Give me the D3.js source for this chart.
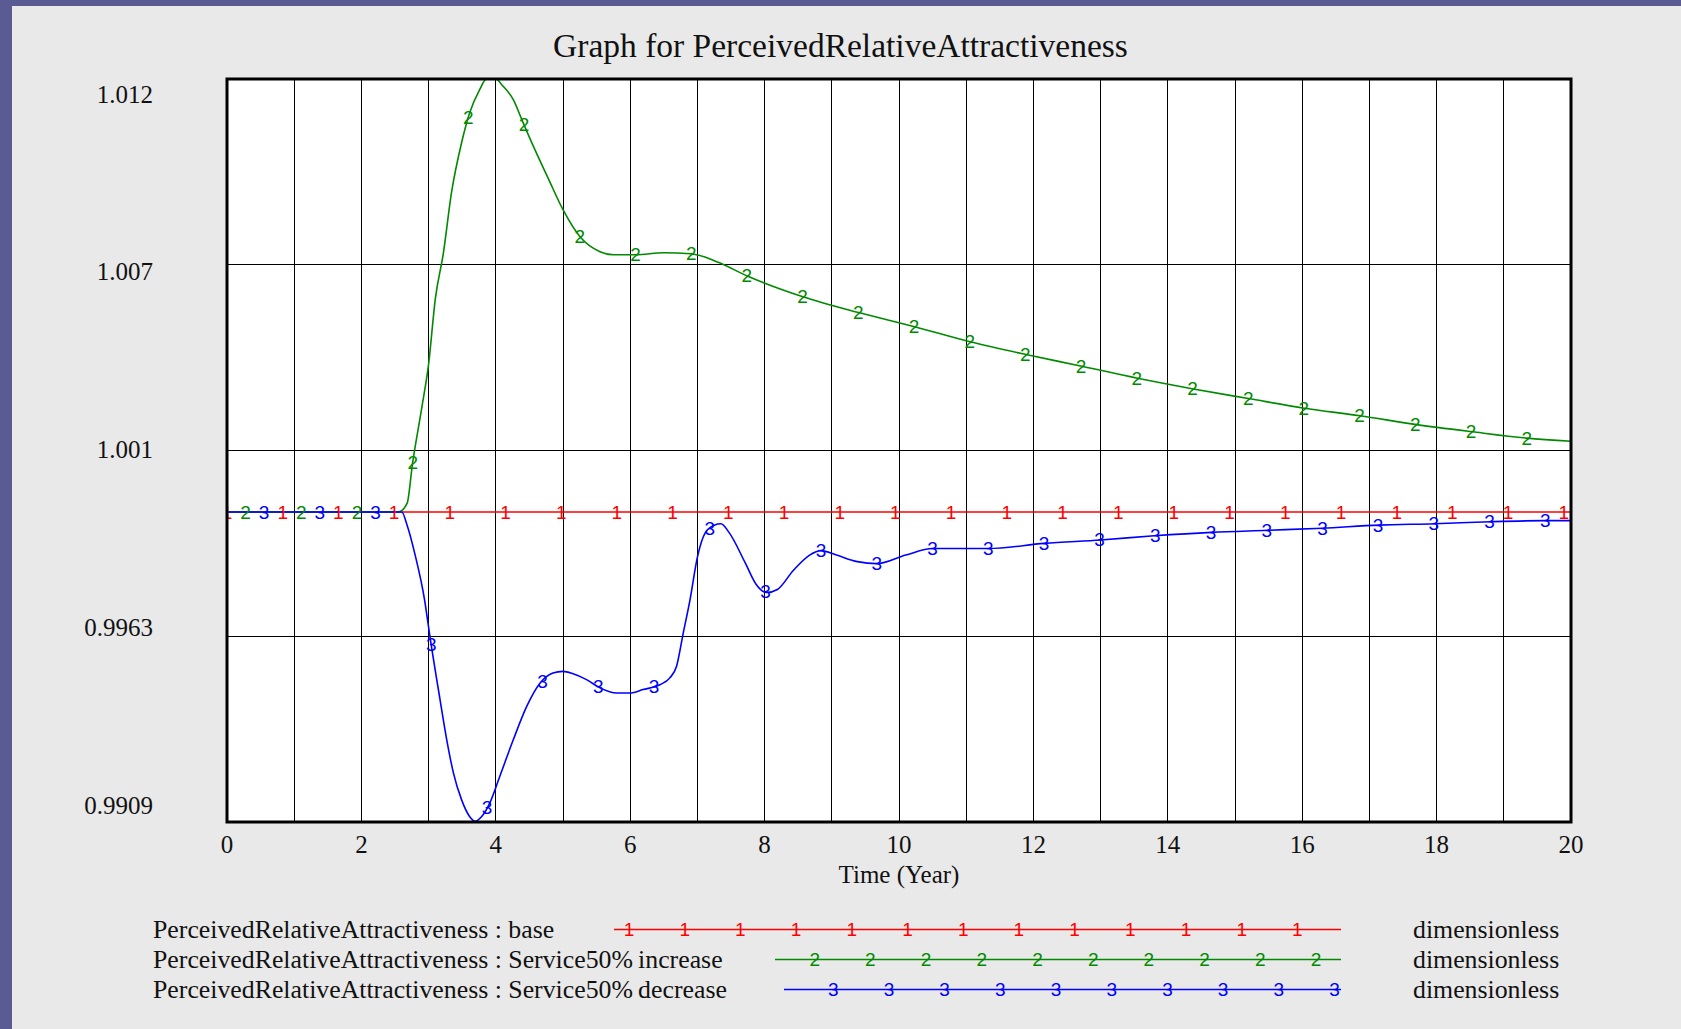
<!DOCTYPE html>
<html>
<head>
<meta charset="utf-8">
<script src="https://cdn.jsdelivr.net/npm/d3@7"></script>
<style>
  html, body { margin: 0; padding: 0; background: #e9e9e9; }
  svg { display: block; }
  text { font-family: "Liberation Serif", "Times New Roman", serif; fill: #111; }
  .mark { font-family: "Liberation Sans", Arial, sans-serif; }
</style>
</head>
<body>
<div id="container"></div>
<script>
/* CONSTANTS AND GLOBALS */
const width = 1681,
  height = 1029,
  plotLeft = 227,
  plotRight = 1571,
  plotTop = 79,
  plotBottom = 822,
  markSpacing = 55.7;

/* DATA */
const title = "Graph for PerceivedRelativeAttractiveness";
const xLabel = "Time (Year)";
const units = "dimensionless";
const xTicks = [0, 2, 4, 6, 8, 10, 12, 14, 16, 18, 20];
const yDomain = [0.99099, 1.01259];
const yTickLabels = ["1.012", "1.007", "1.001", "0.9963", "0.9909"];

const baseTime = [0, 20];
const baseValue = [1.0, 1.0];

const increaseTime = [0, 2.55, 2.68, 2.76, 2.9, 3.0, 3.1, 3.22, 3.34, 3.49, 3.61, 3.76, 3.86, 4.0, 4.1, 4.26, 4.4, 4.56, 4.78, 5.0, 5.25, 5.55, 5.75, 6.08, 6.5, 6.9, 7.1, 7.31, 7.76, 8.57, 9.4, 10.23, 11.06, 11.89, 12.72, 13.55, 14.38, 15.2, 16.03, 16.86, 17.68, 18.51, 19.34, 20];
const increaseValue = [1.0, 1.0, 1.00025, 1.0014, 1.00305, 1.0043, 1.0062, 1.00753, 1.00928, 1.01073, 1.0116, 1.01228, 1.01259, 1.01259, 1.0124, 1.01199, 1.01135, 1.01063, 1.0097, 1.00879, 1.00801, 1.00757, 1.00748, 1.00748, 1.00754, 1.00751, 1.00742, 1.00726, 1.00685, 1.00626, 1.0058, 1.00539, 1.00495, 1.00458, 1.00424, 1.00389, 1.00358, 1.0033, 1.00302, 1.0028, 1.00255, 1.00234, 1.00215, 1.00206];

const decreaseTime = [0, 2.6, 2.68, 2.8, 2.94, 3.02, 3.17, 3.27, 3.37, 3.49, 3.61, 3.69, 3.79, 3.91, 4.06, 4.26, 4.46, 4.66, 4.85, 5.0, 5.15, 5.35, 5.55, 5.8, 6.0, 6.19, 6.44, 6.59, 6.69, 6.79, 6.89, 7.0, 7.12, 7.25, 7.35, 7.47, 7.71, 7.87, 8.03, 8.19, 8.43, 8.67, 8.84, 9.07, 9.38, 9.67, 10.1, 10.5, 11.33, 12.16, 13.0, 13.8, 14.65, 15.48, 16.3, 17.14, 17.97, 18.8, 19.6, 20];
const decreaseValue = [1.0, 1.0, 0.99962, 0.99875, 0.99745, 0.99638, 0.99455, 0.99338, 0.99241, 0.99164, 0.99115, 0.99101, 0.99115, 0.99154, 0.99232, 0.99338, 0.99435, 0.99503, 0.99532, 0.99537, 0.9953, 0.99513, 0.99489, 0.99474, 0.99474, 0.99484, 0.99498, 0.99518, 0.99552, 0.99649, 0.99745, 0.99869, 0.99941, 0.99962, 0.99966, 0.99941, 0.99853, 0.99791, 0.99766, 0.99775, 0.99831, 0.99875, 0.99888, 0.99875, 0.99856, 0.9985, 0.99875, 0.99894, 0.99894, 0.99909, 0.99919, 0.99931, 0.99941, 0.99947, 0.99953, 0.99962, 0.99966, 0.99972, 0.99975, 0.99975];

const seriesNames = ["PerceivedRelativeAttractiveness : base",
  "PerceivedRelativeAttractiveness : Service50%\u2009increase",
  "PerceivedRelativeAttractiveness : Service50%\u2009decrease"];
const seriesColors = ["#ff0000", "#008a00", "#0000ff"];
const legendLineStart = [614, 775, 784];

const series = [
  { id: "1", time: baseTime, value: baseValue },
  { id: "2", time: increaseTime, value: increaseValue },
  { id: "3", time: decreaseTime, value: decreaseValue }
].map((s, i) => ({
  ...s,
  name: seriesNames[i],
  color: seriesColors[i],
  points: s.time.map((t, j) => ({ t: t, v: s.value[j] }))
}));

const svg = d3.select("#container")
  .append("svg")
  .attr("width", width)
  .attr("height", height)

// background + frame
svg.append("rect").attr("width", width).attr("height", height).attr("fill", "#e9e9e9")
svg.append("rect").attr("width", 12).attr("height", height).attr("fill", "#5b5b93")
svg.append("rect").attr("width", width).attr("height", 6).attr("fill", "#5b5b93")

/* SCALES */
const xScale = d3.scaleLinear().domain([0, 20]).range([plotLeft, plotRight])
const yScale = d3.scaleLinear().domain(yDomain).range([plotBottom, plotTop])
// labels are spread inside the plot height, not exactly on the grid
const yLabelScale = d3.scaleLinear().domain([0, yTickLabels.length - 1]).range([94, 805])

svg.append("text")
  .attr("x", width / 2)
  .attr("y", 45)
  .attr("text-anchor", "middle")
  .attr("dominant-baseline", "central")
  .style("font-size", "33.5px")
  .text(title)

svg.append("rect")
  .attr("x", plotLeft).attr("y", plotTop)
  .attr("width", plotRight - plotLeft).attr("height", plotBottom - plotTop)
  .attr("fill", "white")

/* GRID */
const grid = svg.append("g").attr("shape-rendering", "crispEdges")
grid.selectAll(".vgrid")
  .data(d3.range(1, 20))
  .join("line")
  .attr("class", "vgrid")
  .attr("x1", d => xScale(d)).attr("x2", d => xScale(d))
  .attr("y1", plotTop).attr("y2", plotBottom)
  .attr("stroke", "#000").attr("stroke-width", 1)

const yGridVals = d3.range(1, 4).map(i => yDomain[1] - i * (yDomain[1] - yDomain[0]) / 4)
grid.selectAll(".hgrid")
  .data(yGridVals)
  .join("line")
  .attr("class", "hgrid")
  .attr("x1", plotLeft).attr("x2", plotRight)
  .attr("y1", d => yScale(d)).attr("y2", d => yScale(d))
  .attr("stroke", "#000").attr("stroke-width", 1)

/* LINES */
svg.append("clipPath").attr("id", "clip")
  .append("rect")
  .attr("x", plotLeft).attr("y", plotTop - 1)
  .attr("width", plotRight - plotLeft).attr("height", plotBottom - plotTop + 2)

const line = d3.line()
  .x(d => xScale(d.t))
  .y(d => yScale(d.v))
  .curve(d3.curveMonotoneX)

const plot = svg.append("g").attr("clip-path", "url(#clip)")

plot.selectAll(".series")
  .data(series)
  .join("path")
  .attr("class", "series")
  .attr("d", d => line(d.points))
  .attr("fill", "none")
  .attr("stroke", d => d.color)
  .attr("stroke-width", 1.6)

// numbered markers along each line
function valueAt(s, t) {
  const i = d3.bisector(d => d.t).right(s.points, t)
  if (i <= 0) return s.points[0].v
  if (i >= s.points.length) return s.points[s.points.length - 1].v
  const a = s.points[i - 1], b = s.points[i]
  return a.v + (b.v - a.v) * (t - a.t) / (b.t - a.t)
}

series.forEach((s, k) => {
  const marks = []
  for (let px = plotLeft + k * markSpacing / 3; px <= plotRight + 1; px += markSpacing) {
    const t = xScale.invert(px)
    marks.push({ t: t, v: valueAt(s, t) })
  }
  plot.selectAll(".mark" + s.id)
    .data(marks)
    .join("text")
    .attr("class", "mark mark" + s.id)
    .attr("x", d => xScale(d.t))
    .attr("y", d => yScale(d.v))
    .attr("text-anchor", "middle")
    .attr("dominant-baseline", "central")
    .style("font-size", "19px")
    .style("fill", s.color)
    .text(s.id)
})

/* FRAME */
svg.append("rect")
  .attr("x", plotLeft).attr("y", plotTop)
  .attr("width", plotRight - plotLeft).attr("height", plotBottom - plotTop)
  .attr("fill", "none")
  .attr("stroke", "#000")
  .attr("stroke-width", 3)

/* AXES LABELS */
svg.selectAll(".xtick")
  .data(xTicks)
  .join("text")
  .attr("class", "xtick")
  .attr("x", d => xScale(d))
  .attr("y", 844)
  .attr("text-anchor", "middle")
  .attr("dominant-baseline", "central")
  .style("font-size", "25px")
  .text(d => d)

svg.selectAll(".ytick")
  .data(yTickLabels)
  .join("text")
  .attr("class", "ytick")
  .attr("x", 153)
  .attr("y", (d, i) => yLabelScale(i))
  .attr("text-anchor", "end")
  .attr("dominant-baseline", "central")
  .style("font-size", "25px")
  .text(d => d)

svg.append("text")
  .attr("x", (plotLeft + plotRight) / 2)
  .attr("y", 874)
  .attr("text-anchor", "middle")
  .attr("dominant-baseline", "central")
  .style("font-size", "25px")
  .text(xLabel)

/* LEGEND */
const legendRowY = d3.scaleLinear().domain([0, 2]).range([929.5, 989.5])
const legendLineEnd = 1341
const legendPhase = 629

series.forEach((s, k) => {
  const y = legendRowY(k)
  svg.append("text")
    .attr("x", 153).attr("y", y)
    .attr("dominant-baseline", "central")
    .style("font-size", "25.8px")
    .text(s.name)

  svg.append("line")
    .attr("x1", legendLineStart[k]).attr("x2", legendLineEnd)
    .attr("y1", y).attr("y2", y)
    .attr("stroke", s.color).attr("stroke-width", 1.6)

  const xs = []
  for (let px = legendPhase + k * markSpacing / 3; px < legendLineEnd; px += markSpacing) {
    if (px > legendLineStart[k] + 10) xs.push(px)
  }
  svg.selectAll(".lmark" + s.id)
    .data(xs)
    .join("text")
    .attr("class", "mark lmark" + s.id)
    .attr("x", d => d).attr("y", y)
    .attr("text-anchor", "middle")
    .attr("dominant-baseline", "central")
    .style("font-size", "19px")
    .style("fill", s.color)
    .text(s.id)

  svg.append("text")
    .attr("x", 1413).attr("y", y)
    .attr("dominant-baseline", "central")
    .style("font-size", "25.8px")
    .text(units)
})
</script>
</body>
</html>
